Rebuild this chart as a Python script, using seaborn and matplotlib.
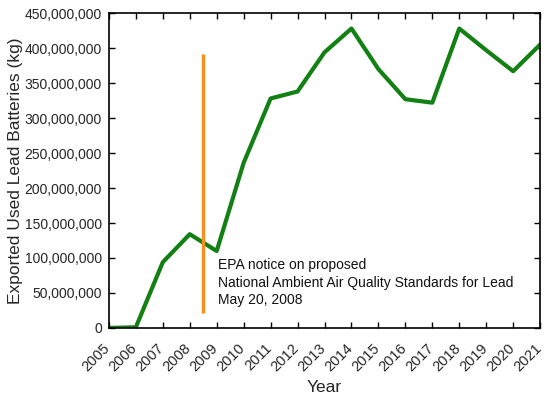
import matplotlib
matplotlib.use("Agg")
import matplotlib.pyplot as plt
import matplotlib.ticker as mticker
import matplotlib.transforms as mtransforms
import pandas as pd
import seaborn as sns

# Exported used lead batteries by year (kg)
years = [2005, 2006, 2007, 2008, 2009, 2010, 2011, 2012, 2013,
         2014, 2015, 2016, 2017, 2018, 2019, 2020, 2021]
exports_kg = [0, 1.0e6, 94e6, 134e6, 110e6, 236e6, 328e6, 338e6, 394e6,
              428e6, 370e6, 327e6, 322e6, 428e6, 397e6, 367e6, 405e6]

# EPA notice marker
epa_year = 2008.5
epa_span = [21e6, 392e6]
epa_text = ("EPA notice on proposed\n"
            "National Ambient Air Quality Standards for Lead\n"
            "May 20, 2008")

df = pd.DataFrame({"Year": years, "Exports": exports_kg})

sns.set_style("ticks")
plt.rcParams["font.family"] = ["Liberation Sans", "DejaVu Sans"]

fig = plt.figure(figsize=(5.5, 3.98), dpi=100)
ax = fig.add_axes([0.198, 0.176, 0.784, 0.791])

sns.lineplot(data=df, x="Year", y="Exports", color="#128012", linewidth=3.0, ax=ax)
ax.vlines(epa_year, epa_span[0], epa_span[1], color="#F5901E", linewidth=2.4)
ax.text(2009.05, 99.5e6, epa_text, fontsize=10, va="top", ha="left",
        linespacing=1.3, color="#111111")

ax.set_xlim(2005, 2021)
ax.set_ylim(0, 450e6)
ax.set_xticks(years)
ax.set_xticklabels([str(y) for y in years], rotation=45, ha="right", fontsize=10.5)
ax.yaxis.set_major_locator(mticker.MultipleLocator(50e6))
ax.yaxis.set_major_formatter(mticker.FuncFormatter(lambda v, p: f"{int(v):,}"))
ax.tick_params(axis="y", labelsize=10, pad=5)
ax.tick_params(axis="x", pad=6)
ax.tick_params(direction="in", top=True, right=True, length=4, width=1,
               color="black")
for s in ax.spines.values():
    s.set_color("black")
    s.set_linewidth(1.2)

# nudge the rotated year labels a little right and down
shift = mtransforms.ScaledTranslation(4 / 100, -5 / 100, fig.dpi_scale_trans)
for lab in ax.get_xticklabels():
    lab.set_transform(lab.get_transform() + shift)

ax.set_xlabel("Year", fontsize=12.5, labelpad=4)
ax.set_ylabel("Exported Used Lead Batteries (kg)", fontsize=12.5, labelpad=1)

fig.savefig("out.png", dpi=100)
